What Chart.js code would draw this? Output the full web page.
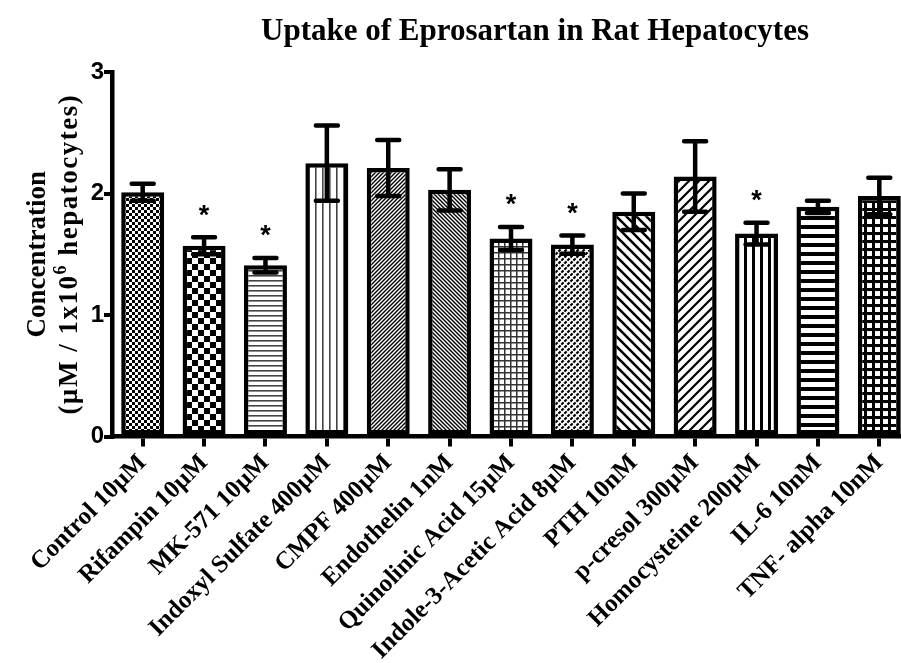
<!DOCTYPE html>
<html>
<head>
<meta charset="utf-8">
<script src="https://cdn.jsdelivr.net/npm/chart.js@4.4.1/dist/chart.umd.min.js"></script>
<style>
html,body{margin:0;padding:0;overflow:hidden;background:#fff;}
canvas{display:block;}
</style>
</head>
<body>
<canvas id="c" width="912" height="663"></canvas>
<script>
const categories = ["Control 10µM","Rifampin 10µM","MK-571 10µM","Indoxyl Sulfate 400µM","CMPF 400µM","Endothelin 1nM","Quinolinic Acid 15µM","Indole-3-Acetic Acid 8µM","PTH 10nM","p-cresol 300µM","Homocysteine 200µM","IL-6 10nM","TNF- alpha 10nM"];
const means = [2.01,1.57,1.41,2.25,2.21,2.03,1.63,1.58,1.85,2.14,1.67,1.89,1.98];
const sems = [0.07,0.07,0.06,0.31,0.23,0.17,0.095,0.075,0.15,0.29,0.09,0.05,0.15];
const significant = [false,true,true,false,false,false,true,true,false,false,true,false,false];
const yTicks = [0,1,2,3];
const titleText = "Uptake of Eprosartan in Rat Hepatocytes";
const yTitleLine1 = "Concentration";
const yTitleLine2a = "(µM / 1x10";
const yTitleSup = "6";
const yTitleLine2b = " hepatocytes)";

const canvas = document.getElementById('c');
const ctx = canvas.getContext('2d');

function tile(w, h, fn) {
  const c = document.createElement('canvas');
  c.width = w; c.height = h;
  const g = c.getContext('2d');
  g.fillStyle = '#fff'; g.fillRect(0, 0, w, h);
  g.fillStyle = '#000'; g.strokeStyle = '#000';
  fn(g, w, h);
  return ctx.createPattern(c, 'repeat');
}
function diag(g, p, lw, dir) {
  g.lineWidth = lw; g.lineCap = 'square';
  g.beginPath();
  for (let k = -1; k <= 1; k++) {
    if (dir === '/') { g.moveTo(k * p - 1, p + 1); g.lineTo(k * p + p + 1, -1); }
    else { g.moveTo(k * p - 1, -1); g.lineTo(k * p + p + 1, p + 1); }
  }
  g.stroke();
}
const patterns = [
  tile(6, 6, g => { g.fillRect(0,0,3,3); g.fillRect(3,3,3,3); }),
  tile(12, 12, g => { g.fillRect(0,0,6,6); g.fillRect(6,6,6,6); }),
  tile(5, 5, g => { g.fillStyle = '#444'; g.fillRect(0,0,5,1.6); }),
  tile(7, 7, g => { g.fillStyle = '#444'; g.fillRect(0,0,1.6,7); }),
  tile(4, 4, g => diag(g, 4, 1.4, '/')),
  tile(4, 4, g => diag(g, 4, 1.4, '\\')),
  tile(6, 6, g => { g.fillStyle = '#333'; g.fillRect(0,0,6,1.5); g.fillRect(0,0,1.5,6); }),
  tile(6, 6, g => { diag(g, 6, 2.2, '/'); g.strokeStyle = '#fff'; diag(g, 6, 1.2, '\\'); }),
  tile(10, 10, g => diag(g, 10, 2.6, '\\')),
  tile(10, 10, g => diag(g, 10, 2.2, '/')),
  tile(8, 8, g => { g.fillRect(0,0,3,8); }),
  tile(9, 9, g => { g.fillRect(0,0,9,4); }),
  tile(8, 8, g => { g.fillRect(0,0,8,3); g.fillRect(0,0,3,8); })
];

const decorPlugin = {
  id: 'decor',
  afterDatasetsDraw(chart) {
    const c = chart.ctx;
    const meta = chart.getDatasetMeta(0);
    const ys = chart.scales.y;
    c.save();
    c.strokeStyle = '#000';
    c.lineWidth = 4.5;
    c.lineCap = 'round';
    meta.data.forEach((bar, i) => {
      const x = bar.x;
      const yt = ys.getPixelForValue(means[i] + sems[i]);
      const yb = ys.getPixelForValue(means[i] - sems[i]);
      c.beginPath();
      c.moveTo(x, yt); c.lineTo(x, yb);
      c.moveTo(x - 11, yt); c.lineTo(x + 11, yt);
      c.moveTo(x - 11, yb); c.lineTo(x + 11, yb);
      c.stroke();
      if (significant[i]) {
        c.fillStyle = '#000';
        c.font = 'bold 27px "Liberation Sans", Arial, sans-serif';
        c.textAlign = 'center';
        c.textBaseline = 'middle';
        c.fillText('*', x, yt - 21);
      }
    });
    c.restore();
  },
  afterDraw(chart) {
    const c = chart.ctx;
    c.save();
    c.fillStyle = '#000';
    c.font = 'bold 31px "Liberation Serif", "Times New Roman", serif';
    c.textAlign = 'center';
    c.textBaseline = 'middle';
    c.fillText(titleText, 535, 32);
    const cy = (chart.chartArea.top + chart.chartArea.bottom) / 2;
    c.save();
    c.translate(38, cy);
    c.rotate(-Math.PI / 2);
    c.font = 'bold 27px "Liberation Serif", "Times New Roman", serif';
    c.textAlign = 'center';
    c.fillText(yTitleLine1, 0, 0);
    c.restore();
    c.save();
    c.translate(70, cy);
    c.rotate(-Math.PI / 2);
    const fMain = 'bold 27px "Liberation Serif", "Times New Roman", serif';
    const fSup = 'bold 18px "Liberation Serif", "Times New Roman", serif';
    c.letterSpacing = '1.5px';
    c.font = fMain;
    const wa = c.measureText(yTitleLine2a).width;
    const wb = c.measureText(yTitleLine2b).width;
    c.font = fSup;
    const ws = c.measureText(yTitleSup).width;
    let x0 = -(wa + ws + wb) / 2;
    c.textAlign = 'left';
    c.textBaseline = 'middle';
    c.font = fMain; c.fillText(yTitleLine2a, x0, 0); x0 += wa;
    c.font = fSup; c.fillText(yTitleSup, x0, -9); x0 += ws;
    c.font = fMain; c.fillText(yTitleLine2b, x0, 0);
    c.restore();
    c.restore();
  }
};

new Chart(ctx, {
  type: 'bar',
  data: {
    labels: categories,
    datasets: [{
      data: means,
      backgroundColor: patterns,
      borderColor: '#000',
      borderWidth: 4.5,
      borderSkipped: false,
      barPercentage: 0.7,
      categoryPercentage: 1.0
    }]
  },
  options: {
    responsive: false,
    animation: false,
    devicePixelRatio: 1,
    layout: { padding: { top: 72, right: 2, left: 0, bottom: 0 } },
    plugins: { legend: { display: false }, title: { display: false }, tooltip: { enabled: false } },
    scales: {
      x: {
        type: 'category',
        offset: true,
        grid: { display: true, drawOnChartArea: false, offset: false, tickLength: 10, lineWidth: 4, color: '#000' },
        border: { display: true, color: '#000', width: 4.5 },
        ticks: {
          color: '#000', maxRotation: 45, minRotation: 45, autoSkip: false, padding: 2,
          font: { family: '"Liberation Serif", "Times New Roman", serif', weight: 'bold', size: 25 }
        },
        afterFit(scale) { scale.height = 226.5; }
      },
      y: {
        min: 0, max: 3,
        afterBuildTicks(scale) { scale.ticks = yTicks.map(v => ({ value: v })); },
        grid: { display: true, drawOnChartArea: false, tickLength: 8, lineWidth: 4, color: '#000' },
        border: { display: true, color: '#000', width: 4.5 },
        ticks: {
          color: '#000', padding: 0,
          font: { family: '"Liberation Sans", Arial, sans-serif', weight: 'bold', size: 24 }
        },
        afterFit(scale) { scale.width = 112; }
      }
    }
  },
  plugins: [decorPlugin]
});
</script>
</body>
</html>
